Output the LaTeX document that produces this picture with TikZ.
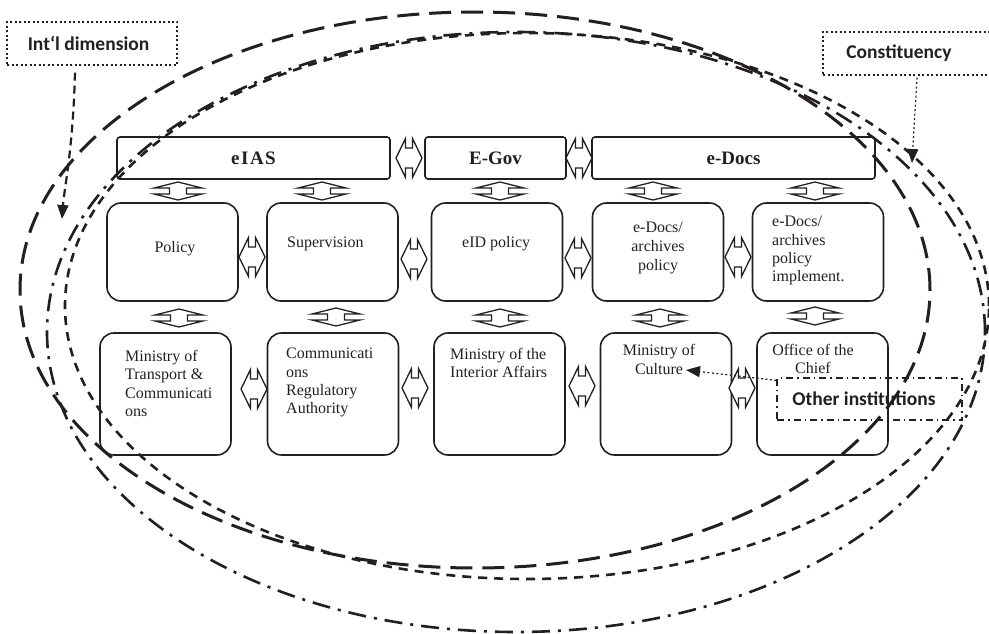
\documentclass[tikz,border=0pt]{standalone}
\usepackage{fontspec}
\setmainfont{Liberation Serif}
\newfontfamily\carlito{Carlito}
\usetikzlibrary{arrows.meta,calc}
\definecolor{dk}{RGB}{35,31,32}
\begin{document}
\begin{tikzpicture}[x=1pt,y=-1pt,
  topbox/.style={draw=dk,line width=1.6pt,rounded corners=3pt,minimum height=42pt,inner sep=0pt,text=dk,font=\fontsize{19}{22}\selectfont\bfseries},
  midbox/.style={draw=dk,line width=1.6pt,rounded corners=14pt,inner sep=0pt,minimum width=131pt},
  txt/.style={inner sep=0pt,font=\fontsize{16}{18.5}\selectfont,text=dk},
  lbl/.style={inner sep=0pt,font=\carlito\bfseries\fontsize{19.5}{22}\selectfont,text=dk},
  arr/.style={draw=dk,line width=1.3pt,line join=miter,fill=white},
  vdarrow/.pic={\path[arr] (0,-9) -- (24,-3) -- (8.5,-3) -- (8.5,3) -- (24,3) -- (0,9) -- (-24,3) -- (-8.5,3) -- (-8.5,-3) -- (-24,-3) -- cycle;},
  hdarrow/.pic={\path[arr] (-13,0) -- (-3.5,-19.5) -- (-3.5,-10) -- (3.5,-10) -- (3.5,-19.5) -- (13,0) -- (3.5,19.5) -- (3.5,10) -- (-3.5,10) -- (-3.5,19.5) -- cycle;},
  tip/.style={-{Triangle[length=14pt,width=11pt]}},
]
\useasboundingbox (0,0) rectangle (989,634);

% top row
\node[topbox,minimum width=273pt] (eias) at (253.5,158) {e\kern1.5pt I\kern1.5pt A\kern1.5pt S};
\node[topbox,minimum width=141pt] (egov) at (495.5,158) {E-Gov};
\node[topbox,minimum width=283pt] (edocs) at (733.5,158) {e-Docs};

% middle row
\node[midbox,minimum height=98pt] (policy) at (172.5,252) {};
\node[midbox,minimum height=98pt] (superv) at (332.5,252) {};
\node[midbox,minimum height=98pt] (eid) at (497,252) {};
\node[midbox,minimum height=98pt] (arch) at (658,252) {};
\node[midbox,minimum height=98pt] (impl) at (818,252) {};

% bottom row
\node[midbox,minimum height=122pt] (mint) at (165.5,394) {};
\node[midbox,minimum height=122pt] (cra) at (333,394) {};
\node[midbox,minimum height=122pt] (inter) at (499.5,394) {};
\node[midbox,minimum height=122pt] (cult) at (666,394) {};
\node[midbox,minimum height=122pt] (office) at (822.5,394) {};

% texts middle row
\node[txt,anchor=base] (policyt) at (175,252) {Policy};
\node[txt,anchor=base west] (supervt) at (287,247) {Supervision};
\node[txt,anchor=base west] (eidt) at (462,247) {eID policy};
\node[txt,anchor=north,align=center,font=\fontsize{16}{19}\selectfont] (archt) at (658,222) {e-Docs/\\archives\\policy};
\node[txt,anchor=north west,align=left,font=\fontsize{16}{18.3}\selectfont] (implt) at (772,216) {e-Docs/\\archives\\policy\\implement.};

% texts bottom row
\node[txt,anchor=north west,align=left] (mintt) at (125,350) {Ministry of\\Transport \&\\Communicati\\ons};
\node[txt,anchor=north west,align=left,font=\fontsize{16}{18.3}\selectfont] (crat) at (286,348) {Communicati\\ons\\Regulatory\\Authority};
\node[txt,anchor=north west,align=left,font=\fontsize{16}{18}\selectfont] (intert) at (450,348) {Ministry of the\\Interior Affairs};
\node[txt,anchor=north,align=center,font=\fontsize{16}{19}\selectfont] (cultt) at (659,344) {Ministry of\\Culture};
\node[txt,anchor=north,align=center,font=\fontsize{16}{18}\selectfont] (officet) at (813,344) {Office of the\\Chief};

% horizontal double arrows
\pic at (409,158) {hdarrow};
\pic at (579,158) {hdarrow};
\pic at (252,257) {hdarrow};
\pic at (414,259) {hdarrow};
\pic at (578,258) {hdarrow};
\pic at (738,257) {hdarrow};
\pic at (254,389) {hdarrow};
\pic at (415,388) {hdarrow};
\pic at (582,386) {hdarrow};
\pic at (742,388) {hdarrow};

% vertical double arrows
\pic at (178,191) {vdarrow};
\pic at (322,191) {vdarrow};
\pic at (500,191) {vdarrow};
\pic at (653,191) {vdarrow};
\pic at (815,191) {vdarrow};
\pic at (179,318) {vdarrow};
\pic at (336,317) {vdarrow};
\pic at (500,318) {vdarrow};
\pic at (660,318) {vdarrow};
\pic at (815,316) {vdarrow};

% label boxes
\node[lbl,draw=dk,line width=1.2pt,dash pattern=on 2pt off 2.5pt,minimum width=170pt,minimum height=43pt] (intl) at (92,43.5) {Int‘l dimension\rule{7pt}{0pt}};
\node[lbl,draw=dk,line width=1.2pt,dash pattern=on 2pt off 2.5pt,minimum width=188pt,minimum height=43pt] (cons) at (917,53.5) {Constituency\rule{36pt}{0pt}};
\node[lbl,draw=dk,line width=1.2pt,dash pattern=on 7pt off 4pt on 1.5pt off 4pt,minimum width=185pt,minimum height=42pt] (other) at (869.5,399) {Other institutions\rule{11pt}{0pt}};

\coordinate (intlend) at (62,219);
\coordinate (consend) at (912,163);
\coordinate (cultend) at (686,370);

\draw[dk,tip,line width=2.2pt,dash pattern=on 8pt off 5pt] ([xshift=-17pt,yshift=-7pt]intl.south) .. controls (73,150) and (64,190) .. (intlend);
\draw[dk,tip,line width=1.2pt,dash pattern=on 2pt off 2.5pt] ([yshift=-2pt]cons.south) -- (consend);
\draw[dk,tip,line width=1.2pt,dash pattern=on 2pt off 2.5pt] ([yshift=-3pt]other.north west) -- (cultend);

% ellipses
\draw[dk,line width=3pt,dash pattern=on 22pt off 10pt] (475,290) ellipse [x radius=455pt, y radius=278pt];
\draw[dk,line width=2.6pt,dash pattern=on 18pt off 8pt on 3pt off 8pt] (516,332) ellipse [x radius=469pt, y radius=300pt];
\draw[dk,line width=2.6pt,dash pattern=on 9pt off 7pt] (527,306) ellipse [x radius=462pt, y radius=273pt];
\end{tikzpicture}
\end{document}
